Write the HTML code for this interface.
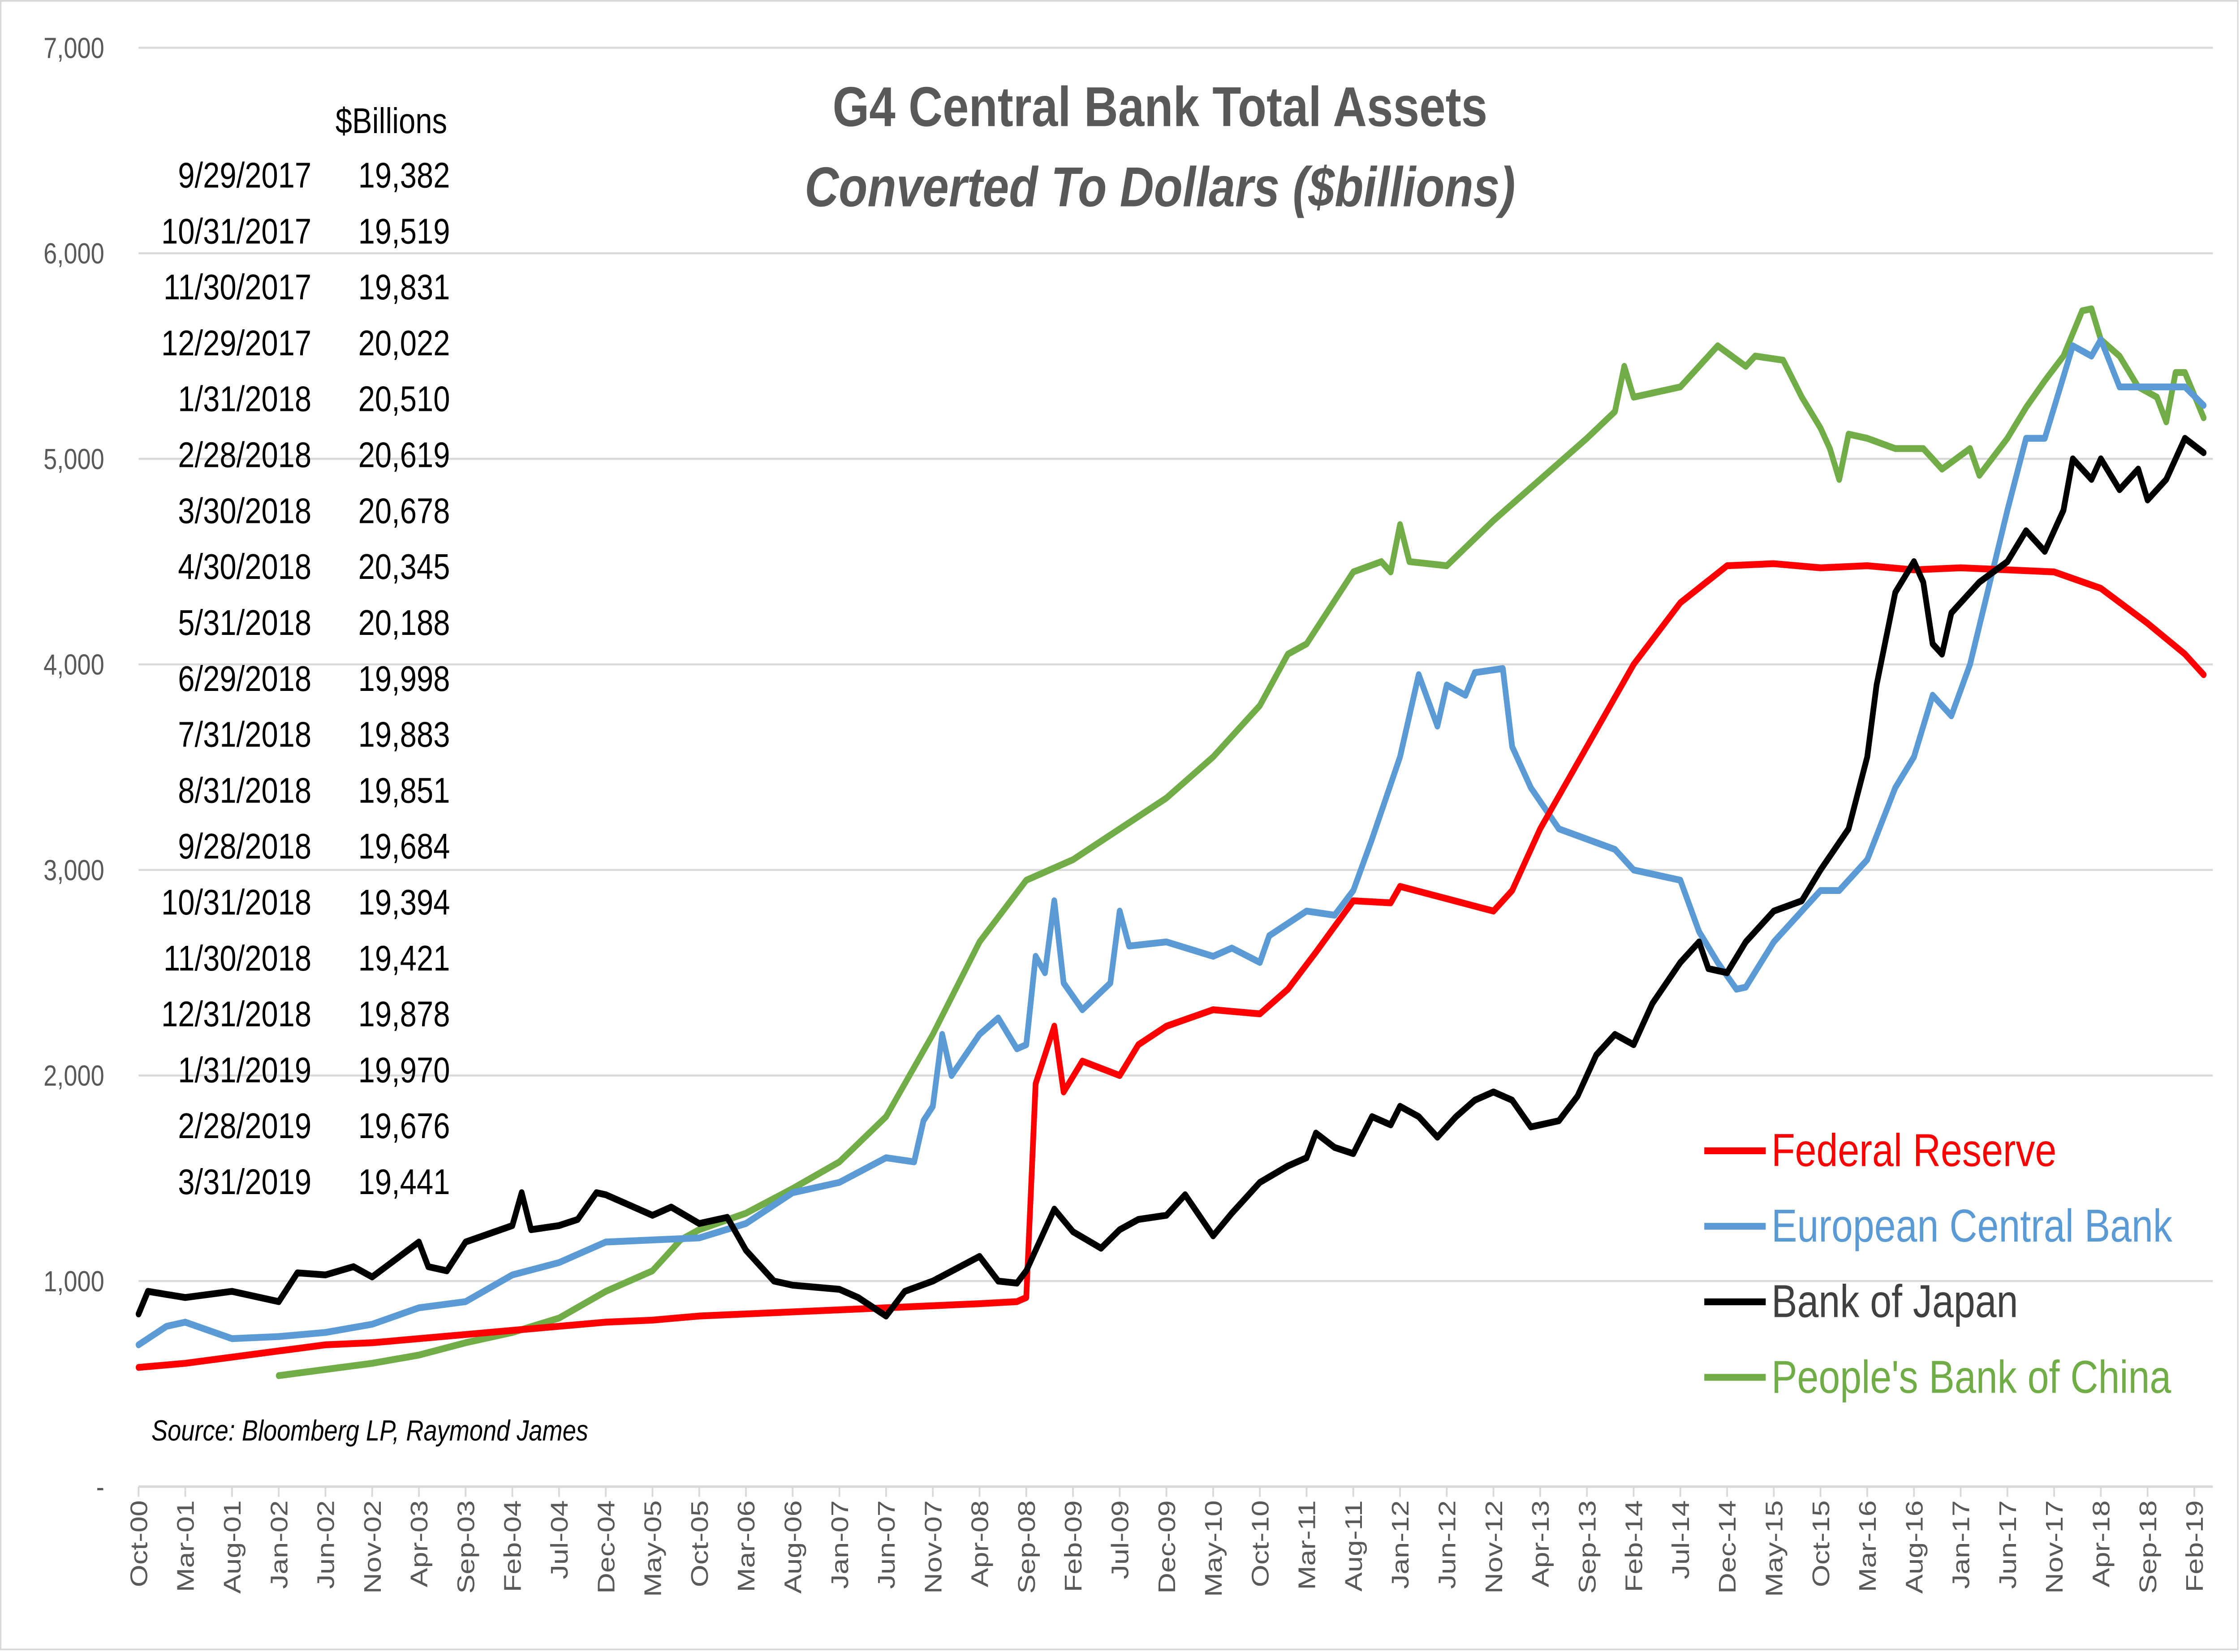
<!DOCTYPE html>
<html><head><meta charset="utf-8"><style>
html,body{margin:0;padding:0;background:#fff;width:100%;height:100%;overflow:hidden;}
svg{display:block;font-family:"Liberation Sans",sans-serif;width:100vw;height:100vh;position:fixed;left:0;top:0;}
</style></head><body>
<svg id="chart" viewBox="0 0 1568 969" preserveAspectRatio="none" xmlns="http://www.w3.org/2000/svg">
<rect x="0" y="0" width="1568" height="969" fill="#fff"/>
<rect x="0.5" y="0.5" width="1566" height="967" fill="none" stroke="#d9d9d9" stroke-width="1"/>
<g id="grid"></g>
<g id="yaxis"></g>
<g id="xaxis"></g>
<g id="series"></g>
<text x="812" y="74" text-anchor="middle" font-size="33" font-weight="bold" fill="#595959">G4 Central Bank Total Assets</text>
<text x="812" y="121" text-anchor="middle" font-size="33" font-weight="bold" font-style="italic" fill="#595959">Converted To Dollars ($billions)</text>
<g id="table"></g>
<text x="106" y="845" font-size="17" font-style="italic" fill="#000">Source: Bloomberg LP, Raymond James</text>
<g id="legend"></g>
</svg>
<script>
const NS="http://www.w3.org/2000/svg";
const yTicks=[0,1000,2000,3000,4000,5000,6000,7000];
const yTickLabels=["-","1,000","2,000","3,000","4,000","5,000","6,000","7,000"];
const xTickLabels=["Oct-00","Mar-01","Aug-01","Jan-02","Jun-02","Nov-02","Apr-03","Sep-03","Feb-04","Jul-04","Dec-04","May-05","Oct-05","Mar-06","Aug-06","Jan-07","Jun-07","Nov-07","Apr-08","Sep-08","Feb-09","Jul-09","Dec-09","May-10","Oct-10","Mar-11","Aug-11","Jan-12","Jun-12","Nov-12","Apr-13","Sep-13","Feb-14","Jul-14","Dec-14","May-15","Oct-15","Mar-16","Aug-16","Jan-17","Jun-17","Nov-17","Apr-18","Sep-18","Feb-19"];
const tableDates=["9/29/2017","10/31/2017","11/30/2017","12/29/2017","1/31/2018","2/28/2018","3/30/2018","4/30/2018","5/31/2018","6/29/2018","7/31/2018","8/31/2018","9/28/2018","10/31/2018","11/30/2018","12/31/2018","1/31/2019","2/28/2019","3/31/2019"];
const tableValues=["19,382","19,519","19,831","20,022","20,510","20,619","20,678","20,345","20,188","19,998","19,883","19,851","19,684","19,394","19,421","19,878","19,970","19,676","19,441"];

const fedDates=["Oct-00","Mar-01","Aug-01","Jan-02","Jun-02","Nov-02","Apr-03","Sep-03","Feb-04","Jul-04","Dec-04","May-05","Oct-05","Mar-06","Aug-06","Jan-07","Jun-07","Nov-07","Apr-08","Aug-08","Sep-08","Oct-08","Dec-08","Jan-09","Mar-09","Jul-09","Sep-09","Dec-09","May-10","Oct-10","Jan-11","Apr-11","Aug-11","Dec-11","Jan-12","Jun-12","Nov-12","Jan-13","Apr-13","Sep-13","Feb-14","Jul-14","Dec-14","May-15","Oct-15","Mar-16","Aug-16","Jan-17","Jun-17","Nov-17","Apr-18","Sep-18","Jan-19","Mar-19"];
const fedValues=[580,600,630,660,690,700,720,740,760,780,800,810,830,840,850,860,870,880,890,900,920,1960,2240,1920,2070,2000,2150,2240,2320,2300,2420,2600,2850,2840,2920,2860,2800,2900,3200,3600,4000,4300,4480,4490,4470,4480,4460,4470,4460,4450,4370,4200,4050,3950];

const ecbDates=["Oct-00","Jan-01","Mar-01","Aug-01","Jan-02","Jun-02","Nov-02","Apr-03","Sep-03","Feb-04","Jul-04","Dec-04","May-05","Oct-05","Mar-06","Aug-06","Jan-07","Jun-07","Sep-07","Oct-07","Nov-07","Dec-07","Jan-08","Apr-08","Jun-08","Aug-08","Sep-08","Oct-08","Nov-08","Dec-08","Jan-09","Mar-09","Jun-09","Jul-09","Aug-09","Dec-09","May-10","Jul-10","Oct-10","Nov-10","Mar-11","Jun-11","Aug-11","Oct-11","Jan-12","Mar-12","May-12","Jun-12","Aug-12","Sep-12","Dec-12","Jan-13","Mar-13","Jun-13","Sep-13","Dec-13","Feb-14","Jul-14","Sep-14","Nov-14","Jan-15","Feb-15","May-15","Aug-15","Oct-15","Dec-15","Mar-16","Jun-16","Aug-16","Oct-16","Dec-16","Feb-17","Jun-17","Aug-17","Oct-17","Jan-18","Mar-18","Apr-18","Jun-18","Sep-18","Nov-18","Jan-19","Mar-19"];
const ecbValues=[690,780,800,720,730,750,790,870,900,1030,1090,1190,1200,1210,1280,1430,1480,1600,1580,1780,1850,2200,2000,2200,2280,2130,2150,2580,2500,2850,2450,2320,2450,2800,2630,2650,2580,2620,2550,2680,2800,2780,2900,3150,3550,3950,3700,3900,3850,3960,3980,3600,3400,3200,3150,3100,3000,2950,2700,2550,2420,2430,2650,2800,2900,2900,3050,3400,3550,3850,3750,4000,4750,5100,5100,5550,5500,5580,5350,5350,5350,5350,5260];

const bojDates=["Oct-00","Nov-00","Mar-01","Aug-01","Jan-02","Mar-02","Jun-02","Sep-02","Nov-02","Apr-03","May-03","Jul-03","Sep-03","Feb-04","Mar-04","Apr-04","Jul-04","Sep-04","Nov-04","Dec-04","May-05","Jul-05","Oct-05","Jan-06","Mar-06","Jun-06","Aug-06","Jan-07","Mar-07","Jun-07","Aug-07","Nov-07","Apr-08","Jun-08","Aug-08","Sep-08","Dec-08","Feb-09","May-09","Jul-09","Sep-09","Dec-09","Feb-10","May-10","Jul-10","Oct-10","Jan-11","Mar-11","Apr-11","Jun-11","Aug-11","Oct-11","Dec-11","Jan-12","Mar-12","May-12","Jul-12","Sep-12","Nov-12","Jan-13","Mar-13","Jun-13","Aug-13","Oct-13","Dec-13","Feb-14","Apr-14","Jul-14","Sep-14","Oct-14","Dec-14","Feb-15","May-15","Aug-15","Oct-15","Jan-16","Mar-16","Apr-16","Jun-16","Aug-16","Sep-16","Oct-16","Nov-16","Dec-16","Mar-17","Jun-17","Aug-17","Oct-17","Dec-17","Jan-18","Mar-18","Apr-18","Jun-18","Aug-18","Sep-18","Nov-18","Jan-19","Mar-19"];
const bojValues=[840,950,920,950,900,1040,1030,1070,1020,1190,1070,1050,1190,1270,1430,1250,1270,1300,1430,1420,1320,1360,1280,1310,1150,1000,980,960,920,830,950,1000,1120,1000,990,1050,1350,1240,1160,1250,1300,1320,1420,1220,1330,1480,1560,1600,1720,1650,1620,1800,1760,1850,1800,1700,1800,1880,1920,1880,1750,1780,1900,2100,2200,2150,2350,2550,2650,2520,2500,2650,2800,2850,3000,3200,3550,3900,4350,4500,4400,4100,4050,4250,4400,4500,4650,4550,4750,5000,4900,5000,4850,4950,4800,4900,5100,5030];

const pbocDates=["Jan-02","Jun-02","Nov-02","Apr-03","Sep-03","Feb-04","Jul-04","Dec-04","May-05","Aug-05","Oct-05","Mar-06","Aug-06","Jan-07","Jun-07","Nov-07","Apr-08","Sep-08","Feb-09","Jul-09","Dec-09","May-10","Oct-10","Jan-11","Mar-11","Aug-11","Nov-11","Dec-11","Jan-12","Feb-12","Jun-12","Nov-12","Apr-13","Sep-13","Dec-13","Jan-14","Feb-14","Jul-14","Nov-14","Feb-15","Mar-15","Jun-15","Aug-15","Oct-15","Nov-15","Dec-15","Jan-16","Mar-16","Jun-16","Sep-16","Nov-16","Feb-17","Mar-17","Jun-17","Aug-17","Oct-17","Dec-17","Feb-18","Mar-18","Apr-18","Jun-18","Aug-18","Oct-18","Nov-18","Dec-18","Jan-19","Mar-19"];
const pbocValues=[540,570,600,640,700,750,820,950,1050,1200,1250,1330,1450,1580,1800,2200,2650,2950,3050,3200,3350,3550,3800,4050,4100,4450,4500,4450,4680,4500,4480,4700,4900,5100,5230,5450,5300,5350,5550,5450,5500,5480,5300,5150,5050,4900,5120,5100,5050,5050,4950,5050,4920,5100,5250,5380,5500,5720,5730,5580,5500,5350,5300,5180,5420,5420,5200];

const MON=["Jan","Feb","Mar","Apr","May","Jun","Jul","Aug","Sep","Oct","Nov","Dec"];
function monthIdx(s){const p=s.split("-");const m=MON.indexOf(p[0]);const y=2000+parseInt(p[1],10);return (y-2000)*12+m-9;}
const X0=97,X1=1536,M1=220,Y0=872,Y7=28;
function xScale(s){return X0+(X1-X0)*monthIdx(s)/M1;}
function yScale(v){return Y0-(Y0-Y7)*v/7000;}
function mk(tag,attrs,parent){const e=document.createElementNS(NS,tag);for(const k in attrs)e.setAttribute(k,attrs[k]);parent.appendChild(e);return e;}

const grid=document.getElementById("grid"),yax=document.getElementById("yaxis"),xax=document.getElementById("xaxis");
yTicks.forEach((v,i)=>{
  if(v>0){const l=mk("line",{x1:X0,x2:1549,y1:yScale(v),y2:yScale(v),stroke:"#d9d9d9","stroke-width":1.2},grid);
  
  }
  const t=mk("text",{x:73,y:yScale(v)+6,"text-anchor":"end","font-size":17,fill:"#595959"},yax);
  t.textContent=yTickLabels[i];
  
  
});
const ax=mk("line",{x1:X0,x2:1549,y1:Y0,y2:Y0,stroke:"#d9d9d9","stroke-width":1.5},xax);


xTickLabels.forEach(s=>{
  const x=xScale(s);
  const tk=mk("line",{x1:x,x2:x,y1:Y0,y2:Y0+6,stroke:"#d9d9d9","stroke-width":1.2},xax);
  
  
  const t=mk("text",{x:x+6,y:880,"text-anchor":"end","font-size":17,fill:"#595959",transform:`rotate(-90 ${x+6} 880)`},xax);
  t.textContent=s;
  
  
});
const ser=document.getElementById("series");
function drawLine(dates,vals,color,name){
  const d=dates.map((s,i)=>(i?"L":"M")+xScale(s).toFixed(2)+","+yScale(vals[i]).toFixed(2)).join("");
  const p=mk("path",{d:d,fill:"none",stroke:color,"stroke-width":4,"stroke-linejoin":"round","stroke-linecap":"round"},ser);
  
  
}
drawLine(pbocDates,pbocValues,"#70ad47","pboc-line");
drawLine(ecbDates,ecbValues,"#5b9bd5","ecb-line");
drawLine(fedDates,fedValues,"#ff0000","fed-line");
drawLine(bojDates,bojValues,"#000000","boj-line");

const tb=document.getElementById("table");
const hd=mk("text",{x:313,y:78,"text-anchor":"end","font-size":21,fill:"#000"},tb);
hd.textContent="$Billions";


tableDates.forEach((d,i)=>{
  const y=110+i*32.8;
  const a=mk("text",{x:218,y:y,"text-anchor":"end","font-size":21,fill:"#000"},tb);
  a.textContent=d;
  
  
  const b=mk("text",{x:315,y:y,"text-anchor":"end","font-size":21,fill:"#000"},tb);
  b.textContent=tableValues[i];
  
  
});
const lg=document.getElementById("legend");
const legendNames=["Federal Reserve","European Central Bank","Bank of Japan","People's Bank of China"];
const legendColors=["#ff0000","#5b9bd5","#000000","#70ad47"];
const legendTextColors=["#ff0000","#5b9bd5","#404040","#70ad47"];
legendNames.forEach((n,i)=>{
  const y=675+i*44.3;
  const l=mk("line",{x1:1193,x2:1236,y1:y,y2:y,stroke:legendColors[i],"stroke-width":4},lg);
  
  
  const t=mk("text",{x:1240,y:y+9,"font-size":27,fill:legendTextColors[i]},lg);
  t.textContent=n;
  
  
});
</script>
</body></html>
